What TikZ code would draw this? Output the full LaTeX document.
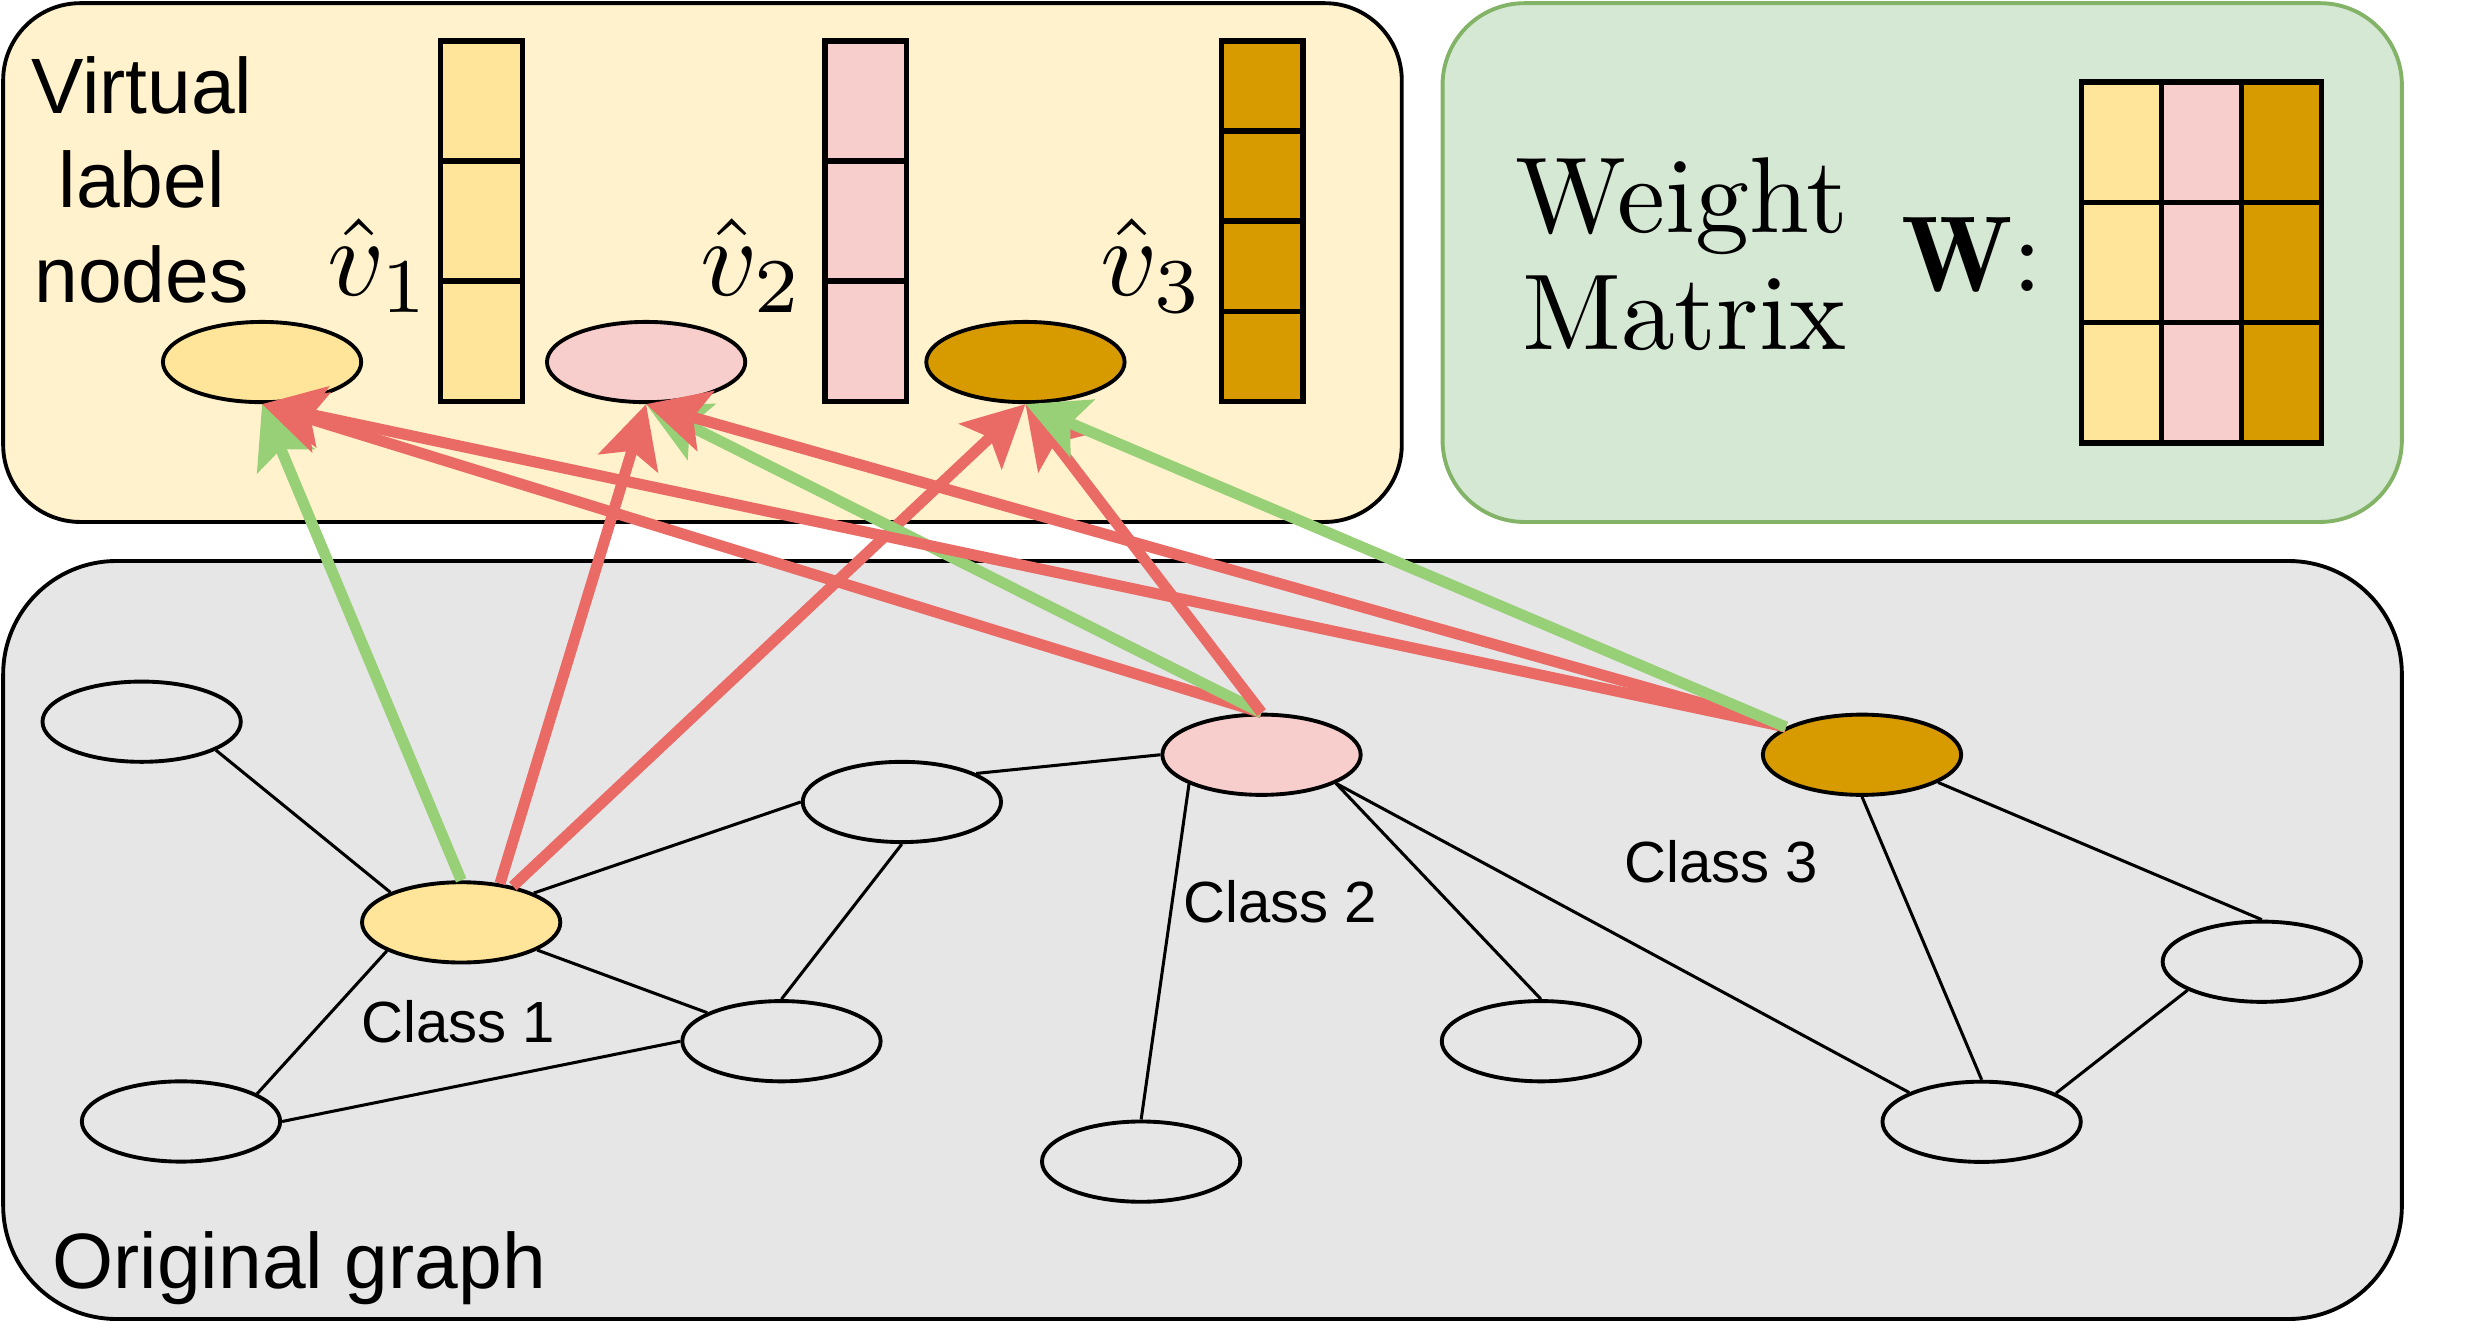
\documentclass[tikz,border=0pt]{standalone}
\usepackage{fontspec}
\newfontfamily\helv{Liberation Sans}
\usetikzlibrary{arrows.meta,shapes.geometric,backgrounds}

\definecolor{labelbg}{HTML}{FFF2CC}
\definecolor{weightbg}{HTML}{D5E8D4}
\definecolor{weightline}{HTML}{82B366}
\definecolor{graphbg}{HTML}{E6E6E6}
\definecolor{cone}{HTML}{FFE599}
\definecolor{ctwo}{HTML}{F8CECC}
\definecolor{cthree}{HTML}{D79B00}
\definecolor{arrowgreen}{HTML}{97D077}
\definecolor{arrowred}{HTML}{EA6B66}

\begin{document}
\begin{tikzpicture}[
    x=0.1mm, y=-0.1mm,
    >={Stealth[length=3.9mm, width=3.9mm, inset=0.8mm]},
    panel/.style={
        draw,
        line width=0.7pt,
        inner sep=0pt
    },
    vnode/.style={
        ellipse,
        draw,
        line width=0.7pt,
        minimum width=12.6mm,
        minimum height=5.1mm,
        inner sep=0pt
    },
    gnode/.style={
        vnode
    },
    link/.style={
        line width=0.55pt
    },
    toclass/.style={
        ->,
        draw=arrowgreen,
        line width=2pt
    },
    toother/.style={
        ->,
        draw=arrowred,
        line width=2pt
    },
    cell/.style={
        draw,
        line width=1pt
    },
    bigsans/.style={
        font=\helv\fontsize{14.2}{17.07}\selectfont,
        inner sep=0pt
    },
    smallsans/.style={
        font=\helv\fontsize{10.5}{12.6}\selectfont,
        inner sep=0pt
    },
    serif/.style={
        font=\fontsize{10}{12}\selectfont,
        inner sep=0pt,
        anchor=base
    }
]
\useasboundingbox (0,0) rectangle (1568,841);

% Nodes - Virtual label nodes
\node[vnode, fill=cone] (u1) at (166.5,230) {};
\node[vnode, fill=ctwo] (u2) at (410.5,230) {};
\node[vnode, fill=cthree] (u3) at (651.5,230) {};

\node[bigsans, align=center] (vl_text) at (90,114.2) {Virtual\\label\\nodes};
\node[serif] (u1_lab) at (241,188) {\scalebox{2}{$\hat{v}_1$}};
\node[serif] (u2_lab) at (478,188) {\scalebox{2}{$\hat{v}_2$}};
\node[serif] (u3_lab) at (732,188) {\scalebox{2}{$\hat{v}_3$}};

% Embedding vectors
\foreach \x/\c in {280/cone, 524/ctwo}
    \foreach \i in {0,1,2}
        \draw[cell, fill=\c] (\x, 26+\i*76.33) rectangle ++(52,76.33);
\foreach \i in {0,...,3}
    \draw[cell, fill=cthree] (776, 26+\i*57.25) rectangle ++(52,57.25);

% Weight matrix
\node[serif] (w_text1) at (1068.5,148) {\scalebox{1.95}{Weight}};
\node[serif] (w_text2) at (1070,222) {\scalebox{1.95}{Matrix}};
\node[serif] (w_sym) at (1253,185) {\scalebox{1.95}{$\mathbf{W}$:}};
\foreach \c [count=\j from 0] in {cone,ctwo,cthree}
    \foreach \i in {0,1,2}
        \draw[cell, fill=\c] (1322.5+\j*50.8, 52+\i*76.5) rectangle ++(50.8,76.5);

% Nodes - Original graph
\node[gnode] (n1) at (90,458.5) {};
\node[gnode, fill=cone] (c1) at (293,586) {};
\node[gnode] (n2) at (573,509.5) {};
\node[gnode] (n3) at (496.5,661.5) {};
\node[gnode] (n4) at (115,712.5) {};
\node[gnode, fill=ctwo] (c2) at (801.5,479.5) {};
\node[gnode] (n5) at (979,661.5) {};
\node[gnode] (n6) at (725,738) {};
\node[gnode, fill=cthree] (c3) at (1183,479.5) {};
\node[gnode] (n7) at (1437,611) {};
\node[gnode] (n8) at (1259,712.7) {};

\node[smallsans, anchor=base] (c1_text) at (291,662) {Class 1};
\node[smallsans, anchor=base] (c2_text) at (813.5,586) {Class 2};
\node[smallsans, anchor=base] (c3_text) at (1093.5,560.7) {Class 3};
\node[bigsans, anchor=base west] (g_text) at (32.7,818.6) {Original graph};

% Graph edges
\draw[link] (n1.-21.7) -- (c1.157.6);
\draw[link] (c1.22.4) -- (n2.west);
\draw[link] (c1.-20.8) -- (n3.159);
\draw[link] (c1.201.4) -- (n4.20.9);
\draw[link] (n4.east) -- (n3.west);
\draw[link] (n2.south) -- (n3.north);
\draw[link] (n2.21.5) -- (c2.west);
\draw[link] (c2.202) -- (n6.north);
\draw[link] (c2.-21.5) -- (n5.north);
\draw[link] (c2.-21.5) -- (n8.158.4);
\draw[link] (c3.south) -- (n8.north);
\draw[link] (c3.-20.8) -- (n7.north);
\draw[link] (n7.201.2) -- (n8.21.4);

% Arrows
\draw[toclass] (c1.north) -- (u1.south);
\draw[toother] (c1.45) -- (u2.south);
\draw[toother] (c1.35) -- (u3.south);
\draw[toother] (c2.north) -- (u1.south);
\draw[toclass] (c2.north) -- (u2.south);
\draw[toother] (c2.north) -- (u3.south);
\draw[toother] (c3.160) -- (u1.south);
\draw[toother] (c3.160) -- (u2.south);
\draw[toclass] (c3.160) -- (u3.south);

% Panels
\begin{scope}[on background layer]
    \node[panel, fill=labelbg, rounded corners=4.9mm, minimum width=88.86mm, minimum height=32.96mm] (p_label) at (446.3,166.8) {};
    \node[panel, draw=weightline, fill=weightbg, rounded corners=5.2mm, minimum width=60.95mm, minimum height=32.96mm] (p_weight) at (1221.25,166.8) {};
    \node[panel, fill=graphbg, rounded corners=7.2mm, minimum width=152.4mm, minimum height=48.16mm] (p_graph) at (764,597.2) {};
\end{scope}

\end{tikzpicture}
\end{document}
